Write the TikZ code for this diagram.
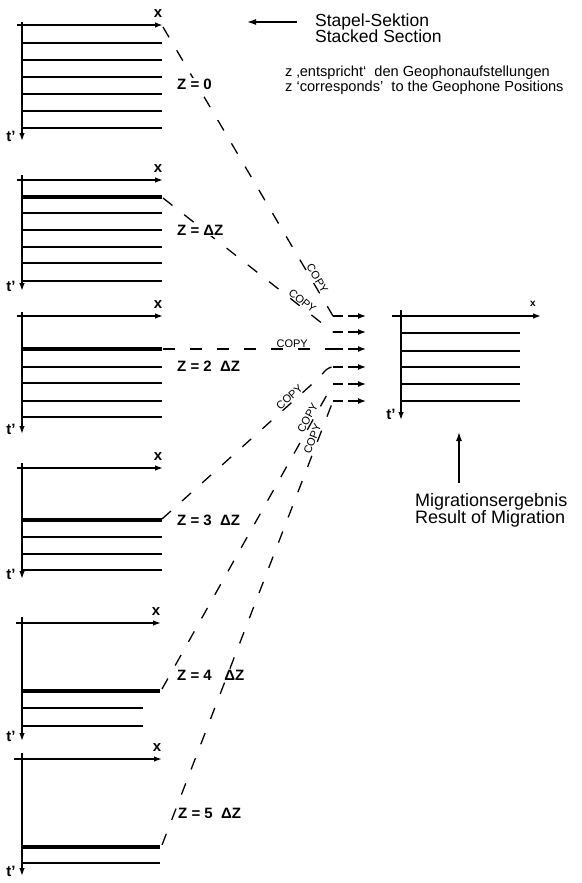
\documentclass[tikz,border=0pt]{standalone}
\usepackage{fontspec}
\setmainfont{Liberation Sans}
\usetikzlibrary{arrows.meta}
\begin{document}
\begin{tikzpicture}[x=1pt,y=-1pt,
  axisarrow/.style={line width=1.4pt,-{Latex[length=8pt,width=5.5pt]}},
  thickref/.style={line width=3.2pt},
  thinref/.style={line width=1.6pt},
  resref/.style={line width=2.4pt},
  conn/.style={line width=1.3pt,dash pattern=on 12pt off 15pt},
  shortarrow/.style={line width=1.4pt,dash pattern=on 10pt off 5pt,-{Latex[length=8pt,width=6pt]}},
  zlabel/.style={font=\fontsize{15}{18}\selectfont\bfseries, inner sep=1pt, anchor=west, fill=white},
  copylabel/.style={font=\fontsize{11}{12}\selectfont, inner sep=1pt},
  axlabel/.style={font=\fontsize{15}{16}\selectfont\bfseries, inner sep=0pt},
  bigtxt/.style={font=\fontsize{17.5}{20}\selectfont, anchor=base west, inner sep=0pt},
  midtxt/.style={font=\fontsize{14.6}{17}\selectfont, anchor=base west, inner sep=0pt},
]
\useasboundingbox (0,0) rectangle (581,883);

% ---------- stacked sections ----------
% panel 1
\draw[axisarrow,line width=2.6pt] (17,25) -- (163,25);
\draw[axisarrow] (22,22) -- (22,141);
\foreach \y in {43,60,77,94,111,128} \draw[thinref] (22,\y) -- (162,\y);
\node[axlabel] (x1) at (158,14) {x};
\node[axlabel] (t1) at (11,136) {t’};
\coordinate (s1) at (163,27);

% panel 2
\draw[axisarrow] (17,180) -- (163,180);
\draw[axisarrow] (22,175) -- (22,291);
\draw[thickref] (22,197) -- (162,197);
\foreach \y in {213,230,247,263,281} \draw[thinref] (22,\y) -- (162,\y);
\node[axlabel] (x2) at (158,169) {x};
\node[axlabel] (t2) at (11,286) {t’};
\coordinate (s2) at (163,198);

% panel 3
\draw[axisarrow] (17,316) -- (163,316);
\draw[axisarrow] (22,312) -- (22,434);
\draw[thickref] (22,349) -- (162,349);
\foreach \y in {367,383,401,417} \draw[thinref] (22,\y) -- (162,\y);
\node[axlabel] (x3) at (158,305) {x};
\node[axlabel] (t3) at (11,429) {t’};
\coordinate (s3) at (163,349);

% panel 4
\draw[axisarrow] (17,468) -- (163,468);
\draw[axisarrow] (22,463) -- (22,579);
\draw[thickref] (22,520) -- (162,520);
\foreach \y in {537,554,570} \draw[thinref] (22,\y) -- (162,\y);
\node[axlabel] (x4) at (158,457) {x};
\node[axlabel] (t4) at (11,574) {t’};
\coordinate (s4) at (162,519);

% panel 5
\draw[axisarrow] (16,623) -- (161,623);
\draw[axisarrow] (22,617) -- (22,741);
\draw[thickref] (22,691) -- (160,691);
\foreach \y in {708,726} \draw[thinref] (22,\y) -- (143,\y);
\node[axlabel] (x5) at (156,612) {x};
\node[axlabel] (t5) at (11,736) {t’};
\coordinate (s5) at (162,689);

% panel 6
\draw[axisarrow] (14,759) -- (162,759);
\draw[axisarrow] (22,753) -- (22,876);
\draw[thickref] (22,847) -- (160,847);
\draw[thinref] (22,863) -- (160,863);
\node[axlabel] (x6) at (157,748) {x};
\node[axlabel] (t6) at (11,871) {t’};
\coordinate (s6) at (162,845);

% ---------- result section ----------
\draw[axisarrow] (392,316) -- (541,316);
\draw[axisarrow] (401,310) -- (401,420);
\foreach \y in {333,351,367,384,401} \draw[resref] (401,\y) -- (520,\y);
\node[font=\fontsize{10}{11}\selectfont\bfseries, inner sep=0pt] (xr) at (533,304) {x};
\node[axlabel] (tr) at (391,414) {t’};

% ---------- copy arrows ----------
\foreach \i/\y in {1/316,2/332,3/349,4/367,5/384,6/401}{
  \coordinate (a\i) at (333,\y);
  \coordinate (e\i) at (366,\y);
  \draw[shortarrow] (a\i) -- (e\i);
}

% ---------- connectors ----------
\draw[conn] (s1) -- node[copylabel,sloped,above,pos=0.88] {COPY} (a1);
\draw[conn] (s2) -- node[copylabel,sloped,above,pos=0.80] {COPY} (a2);
\draw[conn] (s3) -- node[copylabel,above,pos=0.76] {COPY} (a3);
\coordinate (k4) at (320,377);
\draw[conn] (s4) -- node[copylabel,sloped,above,pos=0.83] {COPY} (k4) .. controls (326,369) and (329,367) .. (a4);
\draw[conn] (s5) -- node[copylabel,sloped,above,pos=0.88] {COPY} (a5);
\draw[conn] (s6) -- node[copylabel,sloped,above,pos=0.91] {COPY} (a6);

% ---------- Z labels ----------
\node[zlabel] (z0) at (176,84) {Z = 0};
\node[zlabel] (z1) at (176,230) {Z = ΔZ};
\node[zlabel] (z2) at (176,366) {Z = 2\ \ ΔZ};
\node[zlabel] (z3) at (176,520) {Z = 3\ \ ΔZ};
\node[zlabel] (z4) at (176,675) {Z = 4\ \ \ ΔZ};
\node[zlabel] (z5) at (177,813) {Z = 5\ \ ΔZ};

% ---------- texts ----------
\coordinate (sa0) at (297,22);
\coordinate (sa1) at (247,22);
\draw[line width=1.4pt,-{Latex[length=9pt,width=6pt]}] (sa0) -- (sa1);
\node[bigtxt] (st1) at (315,27) {Stapel-Sektion};
\node[bigtxt] (st2) at (315,43) {Stacked Section};
\node[midtxt] (g1) at (285,76) {z ‚entspricht‘\ \ den Geophonaufstellungen};
\node[midtxt] (g2) at (285,92) {z ‘corresponds’\ \ to the Geophone Positions};

\coordinate (m0) at (459,483);
\coordinate (m1) at (459,432);
\draw[line width=1.3pt,-{Latex[length=9pt,width=6pt]}] (m0) -- (m1);
\node[bigtxt,font=\fontsize{18}{20}\selectfont] (mg1) at (415,506) {Migrationsergebnis};
\node[bigtxt,font=\fontsize{18}{20}\selectfont] (mg2) at (415,523) {Result of Migration};
\end{tikzpicture}
\end{document}
